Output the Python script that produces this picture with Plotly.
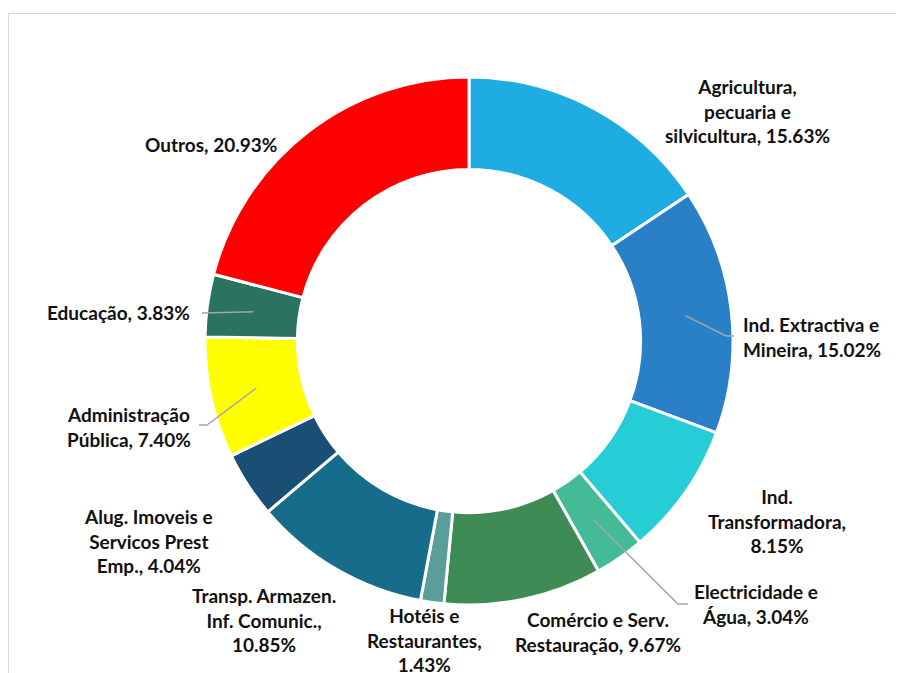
import math
import plotly.graph_objects as go

sectors = [
    "Agricultura, pecuaria e silvicultura",
    "Ind. Extractiva e Mineira",
    "Ind. Transformadora",
    "Electricidade e Água",
    "Comércio e Serv. Restauração",
    "Hotéis e Restaurantes",
    "Transp. Armazen. Inf. Comunic.",
    "Alug. Imoveis e Servicos Prest Emp.",
    "Administração Pública",
    "Educação",
    "Outros",
]
shares = [15.63, 15.02, 8.15, 3.04, 9.67, 1.43, 10.85, 4.04, 7.40, 3.83, 20.93]
label_texts = [
    "Agricultura,<br>pecuaria e<br>silvicultura, 15.63%",
    "Ind. Extractiva e<br>Mineira, 15.02%",
    "Ind.<br>Transformadora,<br>8.15%",
    "Electricidade e<br>Água, 3.04%",
    "Comércio e Serv.<br>Restauração, 9.67%",
    "Hotéis e<br>Restaurantes,<br>1.43%",
    "Transp. Armazen.<br>Inf. Comunic.,<br>10.85%",
    "Alug. Imoveis e<br>Servicos Prest<br>Emp., 4.04%",
    "Administração<br>Pública, 7.40%",
    "Educação, 3.83%",
    "Outros, 20.93%",
]
colors = ["#1FACE3", "#2A80C6", "#27CDD6", "#44BA96", "#3E8B55", "#5A9E9A",
          "#166C8A", "#1A4F75", "#FFFF00", "#2A735E", "#FF0000"]

W, H = 904, 673
OFF = 8  # page body margin
CX, CY, R = 469, 341, 264
HOLE = 0.65

def px(x):
    return (x - OFF) / W

def py(y):
    return 1 - (y - OFF) / H

fig = go.Figure(go.Pie(
    labels=sectors, values=shares, sort=False, direction="clockwise", rotation=0,
    hole=HOLE, textinfo="none", hoverinfo="label+percent",
    marker=dict(colors=colors, line=dict(color="white", width=3)),
    domain=dict(x=[px(CX - R), px(CX + R)], y=[py(CY + R), py(CY - R)]),
    showlegend=False,
))

# label placement (pixel centres of text blocks)
label_pos = [
    (747, 111, "center"), (741, 337, "left"), (777, 521, "center"), (756, 604, "center"),
    (598, 632, "center"), (424, 640, "center"), (264, 620, "center"), (148, 541, "center"),
    (129, 427, "center"), (118, 313, "center"), (211, 145, "center"),
]
annotations = []
for txt, (x, y, anc) in zip(label_texts, label_pos):
    annotations.append(dict(
        x=px(x), y=py(y), xref="paper", yref="paper", text=txt, showarrow=False,
        xanchor=anc, yanchor="middle", align=anc,
        font=dict(family="Lato", size=19, color="#111111", weight="bold"),
    ))

# leader lines from slice mid-ring to label
total = sum(shares)
cum = []
c = 0
for v in shares:
    cum.append(c + v / 2)
    c += v

def mid_point(i):
    ang = 2 * math.pi * cum[i] / total
    r = R * (1 + HOLE) / 2
    return CX + r * math.sin(ang), CY - r * math.cos(ang)

leaders = {
    1: [(726, 336), (734, 336)],
    3: [(678, 604), (688, 604)],
    8: [(207, 425), (199, 425)],
    9: [(202, 313)],
}
shapes = []
for i, pts in leaders.items():
    x0, y0 = mid_point(i)
    path = f"M {px(x0)},{py(y0)}"
    for (x, y) in pts:
        path += f" L {px(x)},{py(y)}"
    shapes.append(dict(type="path", path=path, xref="paper", yref="paper",
                       line=dict(color="#A6A6A6", width=1.5)))

# chart area border
shapes.append(dict(type="rect", xref="paper", yref="paper",
                   x0=px(8.5), y0=-0.02, x1=1.02, y1=py(13.5),
                   line=dict(color="#D9D9D9", width=1), layer="below"))

fig.update_layout(
    width=W, height=H, margin=dict(l=0, r=0, t=0, b=0),
    paper_bgcolor="white", plot_bgcolor="white",
    annotations=annotations, shapes=shapes,
)
fig.write_html("out.html")
